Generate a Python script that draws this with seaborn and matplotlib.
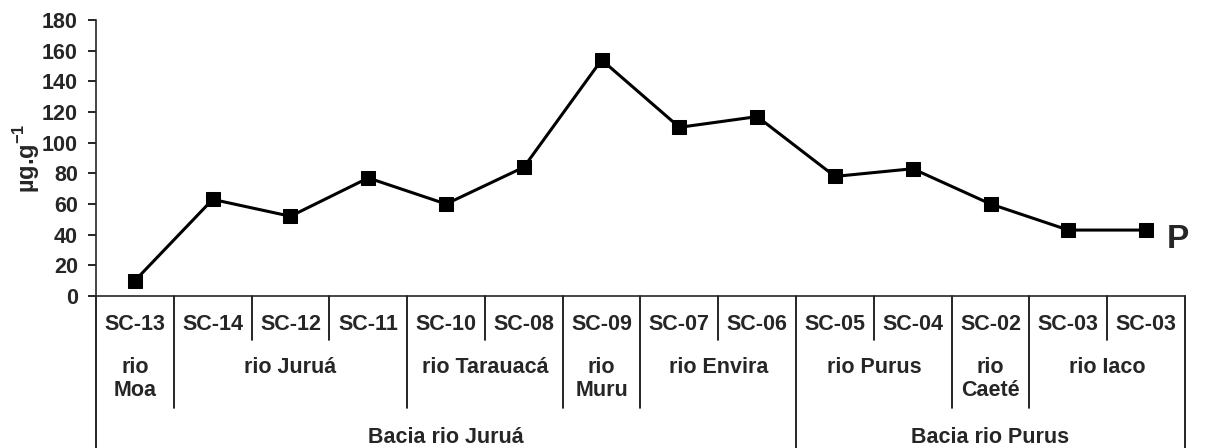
import numpy as np
import pandas as pd
import matplotlib
matplotlib.use('Agg')
import matplotlib.pyplot as plt
import seaborn as sns

# sample points along the rivers
samples = ['SC-13', 'SC-14', 'SC-12', 'SC-11', 'SC-10', 'SC-08', 'SC-09',
           'SC-07', 'SC-06', 'SC-05', 'SC-04', 'SC-02', 'SC-03', 'SC-03']
values = [10, 63, 52, 77, 60, 84, 154, 110, 117, 78, 83, 60, 43, 43]
rivers = ['rio\nMoa', 'rio Juruá', 'rio Juruá', 'rio Juruá', 'rio Tarauacá',
          'rio Tarauacá', 'rio\nMuru', 'rio Envira', 'rio Envira',
          'rio Purus', 'rio Purus', 'rio\nCaeté', 'rio Iaco', 'rio Iaco']
basins = ['Bacia rio Juruá'] * 9 + ['Bacia rio Purus'] * 5
y_ticks = [0, 20, 40, 60, 80, 100, 120, 140, 160, 180]
series_tag = 'P'


def runs(labels):
    # consecutive groups -> (label, first index, last index)
    out = []
    start = 0
    for i in range(1, len(labels) + 1):
        if i == len(labels) or labels[i] != labels[start]:
            out.append((labels[start], start, i - 1))
            start = i
    return out


sns.set_style('ticks')
plt.rcParams['font.family'] = ['Liberation Sans', 'DejaVu Sans']
plt.rcParams['font.weight'] = 'bold'
plt.rcParams['mathtext.fontset'] = 'custom'
plt.rcParams['mathtext.rm'] = 'Liberation Sans:bold'
plt.rcParams['mathtext.bf'] = 'Liberation Sans:bold'

fig = plt.figure(figsize=(12.1, 4.48), dpi=100)
ax = fig.add_axes([96 / 1210, 152 / 448, 1089 / 1210, 276 / 448])

df = pd.DataFrame({'pos': np.arange(len(samples)), 'value': values})
sns.lineplot(data=df, x='pos', y='value', ax=ax, color='black', linewidth=2.2,
             marker='s', markersize=10.5, markeredgecolor='black')

ax.set_xlim(-0.5, len(samples) - 0.5)
ax.set_ylim(0, 180)
ax.set_yticks(y_ticks)
ax.set_xticks([])
ax.tick_params(axis='y', labelsize=15.5, width=1.2, length=6, pad=7, color='black')
for lab in ax.get_yticklabels():
    lab.set_fontweight('bold')
ax.set_xlabel('')
ax.set_ylabel(r'µg.g$^{-1}$', fontsize=17, fontweight='bold', labelpad=0)
sns.despine(ax=ax)
ax.spines['left'].set_linewidth(1.2)
ax.spines['bottom'].set_linewidth(1.2)

# "P" tag next to the last point
ax.text(len(samples) - 1 + 0.27, values[-1] - 6, series_tag, fontsize=24,
        fontweight='bold', ha='left', va='center')

# table under the x axis
tr = ax.get_xaxis_transform()
y_row1, y_row2, y_row3 = -0.159, -0.406, -0.551
lw = 1.2
fs = 15.5

for i, s in enumerate(samples):
    ax.text(i, -0.105, s, transform=tr, ha='center', va='center',
            fontsize=fs, fontweight='bold')

basin_edges = set()
for name, a, b in runs(basins):
    basin_edges.update([a - 0.5, b + 0.5])
    ax.text((a + b) / 2, -0.511, name, transform=tr, ha='center',
            va='center', fontsize=fs, fontweight='bold')

river_edges = set()
for name, a, b in runs(rivers):
    river_edges.update([a - 0.5, b + 0.5])
    ax.text((a + b) / 2, -0.222, name, transform=tr, ha='center', va='top',
            fontsize=fs, fontweight='bold', linespacing=1.1)

for k in range(len(samples) + 1):
    x = k - 0.5
    if x in basin_edges:
        bottom = y_row3
    elif x in river_edges:
        bottom = y_row2
    else:
        bottom = y_row1
    ax.plot([x, x], [0, bottom], transform=tr, color='black', lw=lw,
            clip_on=False)

fig.savefig('out.png', dpi=100)
